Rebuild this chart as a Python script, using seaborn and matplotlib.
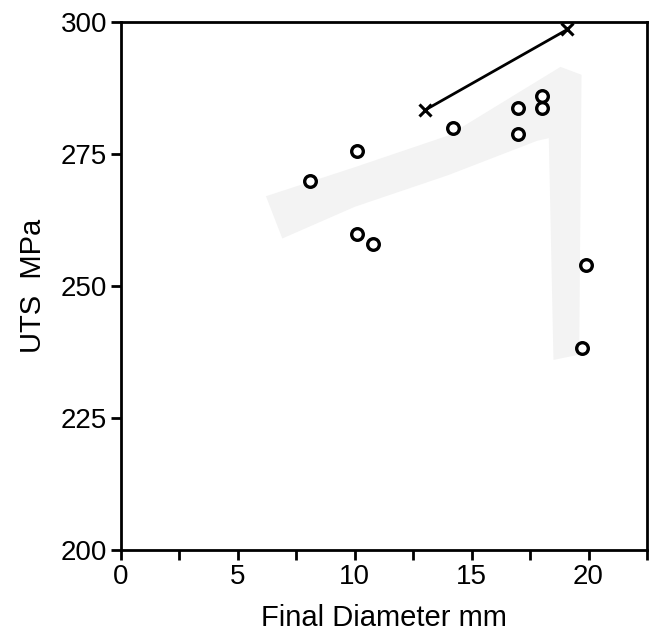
import numpy as np
import pandas as pd
import matplotlib
matplotlib.use("Agg")
import matplotlib.pyplot as plt
import seaborn as sns

# Data
circle_diam = [8.1, 10.1, 10.1, 10.8, 14.2, 17.0, 17.0, 18.0, 18.0, 19.9, 19.7]
circle_uts = [269.8, 275.6, 259.9, 257.9, 279.9, 283.8, 278.7, 286.0, 283.8, 254.0, 238.2]
cross_diam = [13.0, 19.1]
cross_uts = [283.3, 298.6]

# Faint grey shaded trend band (vertices)
band_x = [6.2, 10.0, 14.0, 18.8, 19.7, 19.6, 18.5, 18.3, 17.8, 14.0, 10.0, 6.9]
band_y = [267.0, 272.5, 278.5, 291.5, 290.0, 237.0, 236.0, 278.0, 277.5, 271.0, 265.0, 259.0]

x_ticks = [0, 2.5, 5, 7.5, 10, 12.5, 15, 17.5, 20, 22.5]
x_labels = ["0", "", "5", "", "10", "", "15", "", "20", ""]
y_ticks = [200, 225, 250, 275, 300]

sns.set_style("ticks")
plt.rcParams["font.family"] = ["Liberation Sans", "DejaVu Sans"]
plt.rcParams["text.color"] = "black"
plt.rcParams["axes.labelcolor"] = "black"

fig = plt.figure(figsize=(6.52, 6.43), dpi=100)
ax = fig.add_axes([0.1856, 0.1446, 0.8067, 0.8212])

ax.fill(band_x, band_y, color="#f3f3f3", lw=0, zorder=0)

df_c = pd.DataFrame({"d": circle_diam, "u": circle_uts})
df_x = pd.DataFrame({"d": cross_diam, "u": cross_uts})

sns.lineplot(data=df_x, x="d", y="u", ax=ax, color="black", lw=2.0,
             marker="x", markersize=9, markeredgewidth=2.2,
             markeredgecolor="black", zorder=3)
sns.scatterplot(data=df_c, x="d", y="u", ax=ax, s=70, marker="o",
                facecolor="white", edgecolor="black", linewidth=2.4, zorder=4)

ax.set_xlim(0, 22.5)
ax.set_ylim(200, 300)
ax.set_xticks(x_ticks)
ax.set_xticklabels(x_labels)
ax.set_yticks(y_ticks)
ax.set_yticklabels([str(v) for v in y_ticks])

for s in ax.spines.values():
    s.set_linewidth(2.0)
    s.set_color("black")
    s.set_visible(True)

ax.tick_params(axis="both", direction="out", length=7, width=2.0,
               labelsize=20, colors="black", labelcolor="black", pad=3)

ax.set_xlabel("Final Diameter mm", fontsize=21, labelpad=10, color="black")
ax.set_ylabel("UTS  MPa", fontsize=21, labelpad=10, color="black")

fig.savefig("out.png", dpi=100)
